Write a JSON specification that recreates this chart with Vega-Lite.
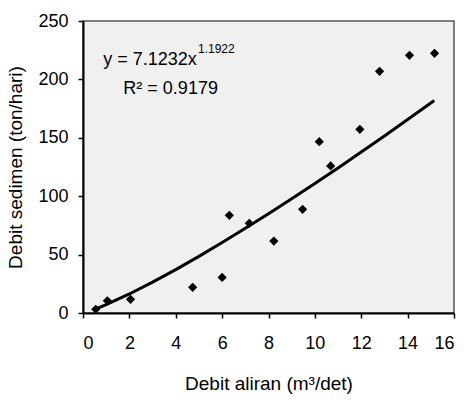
{
  "$schema": "https://vega.github.io/schema/vega-lite/v6.json",
  "width": 371,
  "height": 292,
  "autosize": {"type": "none"},
  "padding": {"left": 83, "top": 21, "right": 12, "bottom": 91},
  "background": "white",
  "config": {
    "view": {"fill": "#f0f0f0", "stroke": "#555555", "strokeWidth": 1.5},
    "axis": {
      "grid": false,
      "domainColor": "black",
      "domainWidth": 2,
      "tickColor": "black",
      "tickWidth": 1.5,
      "tickSize": 5,
      "labelFont": "Liberation Sans",
      "labelFontSize": 18,
      "labelColor": "black",
      "titleFont": "Liberation Sans",
      "titleFontSize": 19,
      "titleFontWeight": "normal",
      "titleColor": "black"
    }
  },
  "datasets": {
    "pts": [
      {"x": 0.55, "y": 3.2},
      {"x": 1.05, "y": 10.5},
      {"x": 2.05, "y": 11.7},
      {"x": 4.73, "y": 22},
      {"x": 6.0, "y": 30.5},
      {"x": 6.31, "y": 83.6},
      {"x": 7.17, "y": 76.8},
      {"x": 8.23, "y": 61.6},
      {"x": 9.47, "y": 88.8},
      {"x": 10.19, "y": 146.7},
      {"x": 10.68, "y": 125.9},
      {"x": 11.94, "y": 157.3},
      {"x": 12.79, "y": 206.9},
      {"x": 14.08, "y": 220.6},
      {"x": 15.16, "y": 222.3}
    ],
    "fit": [
      {"x": 0.5, "y": 3.12},
      {"x": 1, "y": 7.12},
      {"x": 2, "y": 16.28},
      {"x": 3, "y": 26.4},
      {"x": 4, "y": 37.19},
      {"x": 5, "y": 48.52},
      {"x": 6, "y": 60.31},
      {"x": 7, "y": 72.48},
      {"x": 8, "y": 84.98},
      {"x": 9, "y": 97.8},
      {"x": 10, "y": 110.89},
      {"x": 11, "y": 124.24},
      {"x": 12, "y": 137.83},
      {"x": 13, "y": 151.6},
      {"x": 14, "y": 165.6},
      {"x": 15, "y": 179.8},
      {"x": 15.15, "y": 181.9}
    ],
    "eq": [{"x": 4.91, "y": 212.3, "t": "y = 7.1232x"}],
    "sup": [{"x": 4.96, "y": 222.6, "t": "1.1922"}],
    "r2": [{"x": 1.74, "y": 187.5, "t": "R² = 0.9179"}]
  },
  "layer": [
    {
      "data": {"name": "fit"},
      "mark": {"type": "line", "color": "black", "strokeWidth": 3},
      "encoding": {
        "x": {"field": "x", "type": "quantitative",
              "scale": {"domain": [0, 16], "nice": false},
              "axis": {"values": [0, 2, 4, 6, 8, 10, 12, 14, 16], "labelPadding": 16, "title": "Debit aliran (m³/det)", "titlePadding": 22}},
        "y": {"field": "y", "type": "quantitative",
              "scale": {"domain": [0, 250], "nice": false},
              "axis": {"values": [0, 50, 100, 150, 200, 250], "labelPadding": 10, "title": "Debit sedimen (ton/hari)", "titlePadding": 12}}
      }
    },
    {
      "data": {"name": "pts"},
      "mark": {"type": "point", "shape": "diamond", "filled": true, "color": "black", "size": 85, "opacity": 1},
      "encoding": {
        "x": {"field": "x", "type": "quantitative"},
        "y": {"field": "y", "type": "quantitative"}
      }
    },
    {
      "data": {"name": "eq"},
      "mark": {"type": "text", "font": "Liberation Sans", "color": "black", "baseline": "alphabetic", "align": "right", "fontSize": 18},
      "encoding": {
        "x": {"field": "x", "type": "quantitative"},
        "y": {"field": "y", "type": "quantitative"},
        "text": {"field": "t"}
      }
    },
    {
      "data": {"name": "sup"},
      "mark": {"type": "text", "font": "Liberation Sans", "color": "black", "baseline": "alphabetic", "align": "left", "fontSize": 12},
      "encoding": {
        "x": {"field": "x", "type": "quantitative"},
        "y": {"field": "y", "type": "quantitative"},
        "text": {"field": "t"}
      }
    },
    {
      "data": {"name": "r2"},
      "mark": {"type": "text", "font": "Liberation Sans", "color": "black", "baseline": "alphabetic", "align": "left", "fontSize": 18},
      "encoding": {
        "x": {"field": "x", "type": "quantitative"},
        "y": {"field": "y", "type": "quantitative"},
        "text": {"field": "t"}
      }
    }
  ]
}
